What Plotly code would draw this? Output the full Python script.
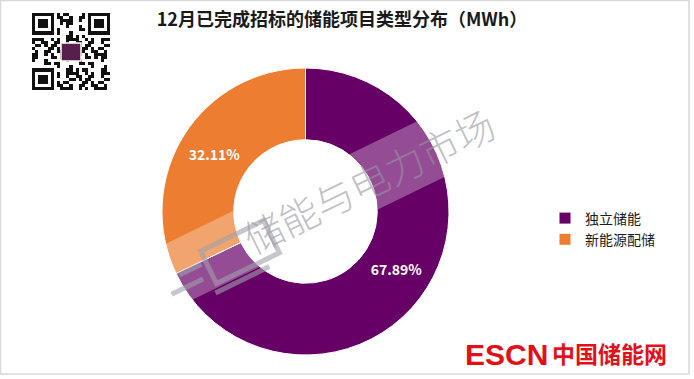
import math
import plotly.graph_objects as go

W, H = 694, 379

# ---- data ----
categories = ["独立储能", "新能源配储"]
shares = [67.89, 32.11]
colors = ["#660066", "#ED7D31"]
title_text = "12月已完成招标的储能项目类型分布（MWh）"
watermark_text = "储能与电力市场"


def px(x):
    return x / W


def py(y):
    return 1 - y / H


fig = go.Figure()

# donut
cx, cy, r = 305.5, 211.5, 143.5
fig.add_trace(go.Pie(
    labels=categories,
    values=shares,
    hole=0.5,
    sort=False,
    direction="clockwise",
    rotation=0,
    marker=dict(colors=colors, line=dict(color="white", width=1)),
    texttemplate="%{value:.2f}%",
    textposition="inside",
    insidetextorientation="horizontal",
    textfont=dict(color="white", size=14, family="Noto Sans CJK SC", weight="bold"),
    domain=dict(x=[px(cx - r), px(cx + r)], y=[py(cy + r), py(cy - r)]),
    hoverinfo="label+percent",
))

# QR-like decoration (deterministic pattern)
n = 25
qr = [[0] * n for _ in range(n)]
for i in range(n):
    for j in range(n):
        qr[i][j] = 1 if ((i * i * 31 + j * j * 17 + i * j * 7 + j * 3) % 11) < 5 else 0


def finder(r0, c0):
    for i in range(7):
        for j in range(7):
            edge = i in (0, 6) or j in (0, 6)
            core = 2 <= i <= 4 and 2 <= j <= 4
            qr[r0 + i][c0 + j] = 1 if (edge or core) else 0
    for k in range(-1, 8):
        for (a, b) in ((r0 - 1, c0 + k), (r0 + 7, c0 + k), (r0 + k, c0 - 1), (r0 + k, c0 + 7)):
            if 0 <= a < n and 0 <= b < n:
                qr[a][b] = 0


finder(0, 0)
finder(0, n - 7)
finder(n - 7, 0)

fig.add_trace(go.Heatmap(
    z=qr, xaxis="x2", yaxis="y2", showscale=False,
    colorscale=[[0, "white"], [1, "#111111"]], hoverinfo="skip",
))

layout_shapes = []
# QR center logo
layout_shapes.append(dict(type="rect", xref="paper", yref="paper",
                          x0=px(61), x1=px(81), y0=py(61), y1=py(43),
                          fillcolor="#5a1e4e", line=dict(color="white", width=1.5)))

# watermark band (decorative)
ang = math.radians(-26)
ux, uy = math.cos(ang), math.sin(ang)      # along band
nx, ny = -uy, ux                            # normal
bcx, bcy = 310, 208
half_len, half_w = 175, 31
pts = []
for s, t in ((-1, -1), (1, -1), (1, 1), (-1, 1)):
    X = bcx + s * half_len * ux + t * half_w * nx
    Y = bcy + s * half_len * uy + t * half_w * ny
    pts.append((px(X), py(Y)))
path = "M " + " L ".join(f"{a:.4f},{b:.4f}" for a, b in pts) + " Z"
layout_shapes.append(dict(type="path", xref="paper", yref="paper", path=path,
                          fillcolor="rgba(255,255,255,0.3)", line=dict(width=0), layer="above"))


def rot_pt(ox, oy, a, b):
    return ox + a * ux + b * nx, oy + a * uy + b * ny


# battery-like logo outline in watermark
ox, oy = 240, 252
corners = [rot_pt(ox, oy, a, b) for a, b in ((-35, -18), (35, -18), (35, 18), (-35, 18))]
p2 = "M " + " L ".join(f"{px(a):.4f},{py(b):.4f}" for a, b in corners) + " Z"
layout_shapes.append(dict(type="path", xref="paper", yref="paper", path=p2,
                          line=dict(color="rgba(160,160,170,0.6)", width=5), layer="above"))
for a0, a1, b in ((-80, -45, 8), (-65, -40, -6), (-40, 20, 26)):
    x0, y0 = rot_pt(ox, oy, a0, b)
    x1, y1 = rot_pt(ox, oy, a1, b)
    layout_shapes.append(dict(type="line", xref="paper", yref="paper",
                              x0=px(x0), y0=py(y0), x1=px(x1), y1=py(y1),
                              line=dict(color="rgba(160,160,170,0.6)", width=5), layer="above"))

# outer frame
layout_shapes.append(dict(type="rect", xref="paper", yref="paper",
                          x0=px(0.5), x1=px(689), y0=py(374), y1=py(0.5),
                          line=dict(color="#d9d9d9", width=1.5)))

annotations = [
    dict(text=watermark_text, x=px(368), y=py(180), xref="paper", yref="paper",
         xanchor="center", yanchor="middle",
         showarrow=False, textangle=-26,
         font=dict(size=39, color="rgba(150,150,160,0.6)", family="Noto Sans CJK SC", weight=300)),
    dict(text="<b>ESCN</b>", x=px(463), y=py(354), xref="paper", yref="paper",
         xanchor="left", yanchor="middle",
         showarrow=False, font=dict(size=30, color="#E3101A", family="Liberation Sans")),
    dict(text="<b>中国储能网</b>", x=px(550), y=py(353), xref="paper", yref="paper",
         xanchor="left", yanchor="middle",
         showarrow=False, font=dict(size=23, color="#E3101A", family="Noto Sans CJK SC")),
]

fig.update_layout(
    width=W, height=H,
    margin=dict(l=0, r=0, t=0, b=0),
    paper_bgcolor="white",
    plot_bgcolor="white",
    title=dict(text="<b>" + title_text + "</b>", x=px(342), xanchor="center",
               y=py(20), yanchor="middle",
               font=dict(size=18, color="#1a1a1a", family="Noto Sans CJK SC")),
    legend=dict(x=px(545), y=py(229), xanchor="left", yanchor="middle",
                font=dict(size=14, color="#1a1a1a", family="Noto Sans CJK SC"),
                bgcolor="rgba(0,0,0,0)"),
    xaxis2=dict(domain=[px(32), px(110)], visible=False, anchor="y2"),
    yaxis2=dict(domain=[py(90), py(13)], visible=False, anchor="x2", autorange="reversed"),
    shapes=layout_shapes,
    annotations=annotations,
    showlegend=True,
)

fig.write_html("out.html", config={"displayModeBar": False},
               post_script="document.body.style.margin='0';")
